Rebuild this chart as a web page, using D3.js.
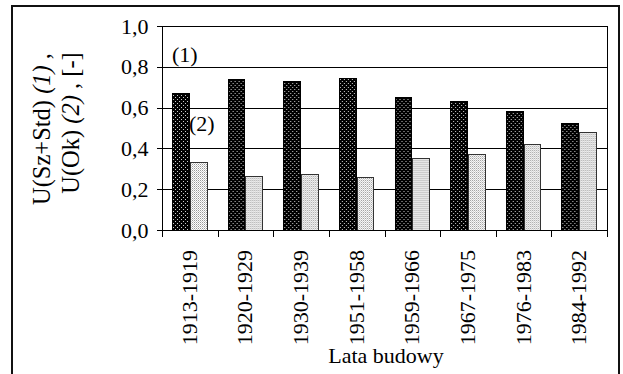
<!DOCTYPE html>
<html>
<head>
<meta charset="utf-8">
<script src="https://cdn.jsdelivr.net/npm/d3@7"></script>
<style>
  body { margin: 0; background: #fff; }
</style>
</head>
<body>
<div id="chart"></div>
<script>
// data
var categories = ["1913-1919", "1920-1929", "1930-1939", "1951-1958", "1959-1966", "1967-1975", "1976-1983", "1984-1992"];
var uSzStd = [0.67, 0.74, 0.73, 0.745, 0.65, 0.63, 0.58, 0.52];
var uOk = [0.33, 0.26, 0.27, 0.255, 0.35, 0.37, 0.42, 0.48];
var yTicks = [0, 0.2, 0.4, 0.6, 0.8, 1.0];

var width = 623, height = 374;
var serif = "'Liberation Serif', 'Times New Roman', serif";

var svg = d3.select("#chart").append("svg")
  .attr("width", width).attr("height", height);

// patterns for the two series
var defs = svg.append("defs");
var p1 = defs.append("pattern").attr("id", "pDark")
  .attr("width", 4).attr("height", 4).attr("patternUnits", "userSpaceOnUse");
p1.append("rect").attr("width", 4).attr("height", 4).attr("fill", "#000");
p1.append("rect").attr("x", 1).attr("y", 1).attr("width", 1).attr("height", 1).attr("fill", "#ccc");
p1.append("rect").attr("x", 3).attr("y", 3).attr("width", 1).attr("height", 1).attr("fill", "#ccc");

var p2 = defs.append("pattern").attr("id", "pLight")
  .attr("width", 2).attr("height", 2).attr("patternUnits", "userSpaceOnUse");
p2.append("rect").attr("width", 2).attr("height", 2).attr("fill", "#fff");
p2.append("rect").attr("x", 0).attr("y", 0).attr("width", 1).attr("height", 1).attr("fill", "#999");
p2.append("rect").attr("x", 1).attr("y", 1).attr("width", 1).attr("height", 1).attr("fill", "#ccc");

// outer frame (bottom edge is cut off)
svg.append("rect")
  .attr("x", 12).attr("y", 6)
  .attr("width", 607).attr("height", 400)
  .attr("fill", "none").attr("stroke", "#111").attr("stroke-width", 2);

var x = d3.scaleBand()
  .domain(categories)
  .range([162, 607])
  .padding(0);

var bw = x.bandwidth();
var x1 = d3.scaleBand()
  .domain([0, 1])
  .range([bw * 0.19, bw * 0.81])
  .paddingInner(0.06);

var y = d3.scaleLinear()
  .domain([0, 1])
  .range([230, 26]);

var g = svg.append("g").attr("shape-rendering", "crispEdges");

// gridlines
g.selectAll("line.grid")
  .data(yTicks.filter(function(d) { return d > 0; }))
  .enter().append("line")
  .attr("class", "grid")
  .attr("x1", 162).attr("x2", 607)
  .attr("y1", function(d) { return Math.round(y(d)) + 0.5; })
  .attr("y2", function(d) { return Math.round(y(d)) + 0.5; })
  .attr("stroke", "#000");

// right frame line of plot
g.append("line")
  .attr("x1", 607.5).attr("x2", 607.5)
  .attr("y1", y(1)).attr("y2", y(0))
  .attr("stroke", "#000");

// bars
var groups = g.selectAll("g.cat")
  .data(categories)
  .enter().append("g")
  .attr("class", "cat")
  .attr("transform", function(d) { return "translate(" + x(d) + ",0)"; });

groups.append("rect")
  .attr("x", x1(0))
  .attr("y", function(d, i) { return y(uSzStd[i]); })
  .attr("width", x1.bandwidth())
  .attr("height", function(d, i) { return y(0) - y(uSzStd[i]); })
  .attr("fill", "url(#pDark)")
  .attr("stroke", "#000")
  .attr("stroke-width", 1);

groups.append("rect")
  .attr("x", x1(1))
  .attr("y", function(d, i) { return y(uOk[i]); })
  .attr("width", x1.bandwidth())
  .attr("height", function(d, i) { return y(0) - y(uOk[i]); })
  .attr("fill", "url(#pLight)")
  .attr("stroke", "#333")
  .attr("stroke-width", 1);

// y axis
var yAxis = d3.axisLeft(y)
  .tickValues(yTicks)
  .tickSize(6)
  .tickPadding(8)
  .tickFormat(function(d) { return d3.format(".1f")(d).replace(".", ","); });

var ya = svg.append("g")
  .attr("transform", "translate(162.5,0)")
  .call(yAxis)
  .attr("font-family", serif)
  .attr("font-size", 22);
ya.select(".domain").attr("d", "M0," + y(1) + "V" + (y(0) + 7));
ya.selectAll("path, line").attr("stroke", "#000").attr("shape-rendering", "crispEdges");
ya.selectAll("text").attr("fill", "#000");

// x axis: ticks at category boundaries
var xAxisG = svg.append("g").attr("shape-rendering", "crispEdges");
xAxisG.append("line")
  .attr("x1", 157).attr("x2", 607)
  .attr("y1", 230.5).attr("y2", 230.5)
  .attr("stroke", "#000");
var bounds = categories.map(function(d) { return x(d); }).concat([x(categories[categories.length - 1]) + bw]);
xAxisG.selectAll("line.tk")
  .data(bounds)
  .enter().append("line")
  .attr("class", "tk")
  .attr("x1", function(d) { return Math.round(d) + 0.5; })
  .attr("x2", function(d) { return Math.round(d) + 0.5; })
  .attr("y1", 230).attr("y2", 237)
  .attr("stroke", "#000");

svg.selectAll("text.xl")
  .data(categories)
  .enter().append("text")
  .attr("class", "xl")
  .attr("transform", function(d) { return "translate(" + (x(d) + bw / 2 + 7) + ",250) rotate(-90)"; })
  .attr("text-anchor", "end")
  .style("font-family", serif)
  .style("font-size", "22px")
  .text(function(d) { return d; });

// axis titles
svg.append("text")
  .attr("x", 386).attr("y", 363)
  .attr("text-anchor", "middle")
  .style("font-family", serif)
  .style("font-size", "22px")
  .text("Lata budowy");

var t1 = svg.append("text")
  .attr("transform", "translate(50,129) rotate(-90)")
  .attr("text-anchor", "middle")
  .style("font-family", serif)
  .style("font-size", "24.5px");
t1.append("tspan").text("U(Sz+Std) ");
t1.append("tspan").style("font-style", "italic").text("(1)");
t1.append("tspan").text(" ,");

var t2 = svg.append("text")
  .attr("transform", "translate(79,123) rotate(-90)")
  .attr("text-anchor", "middle")
  .style("font-family", serif)
  .style("font-size", "24.5px");
t2.append("tspan").text("U(Ok) ");
t2.append("tspan").style("font-style", "italic").text("(2)");
t2.append("tspan").text(" , [-]");

// series labels inside the plot
svg.append("text").attr("x", 172).attr("y", 62)
  .style("font-family", serif).style("font-size", "22px").text("(1)");
svg.append("text").attr("x", 189).attr("y", 131)
  .style("font-family", serif).style("font-size", "22px").text("(2)");
</script>
</body>
</html>
